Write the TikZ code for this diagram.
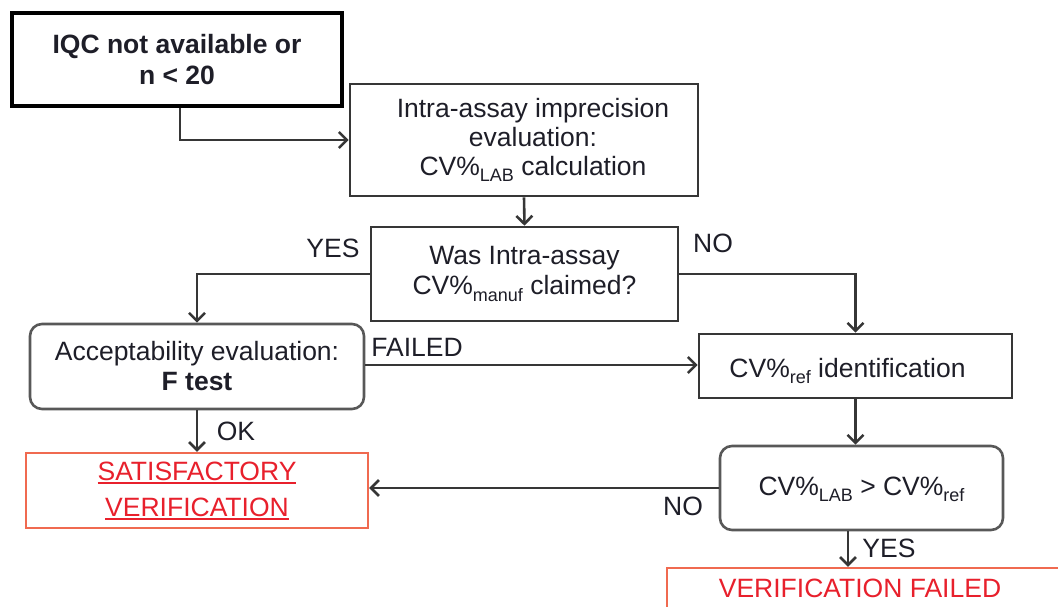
\documentclass[tikz,border=0pt]{standalone}
\usepackage{fontspec}
\setmainfont{Liberation Sans}
\usetikzlibrary{arrows.meta}
\definecolor{txt}{HTML}{1E1E28}
\definecolor{edge}{HTML}{363636}
\definecolor{soft}{HTML}{585858}
\definecolor{redbox}{HTML}{F06A50}
\definecolor{redtxt}{HTML}{E8202C}
\newcommand{\lowtxt}[1]{\raisebox{-0.45ex}{\fontsize{18}{18}\selectfont #1}}
\newlength{\ulwidth}
\newcommand{\redul}[1]{\settowidth{\ulwidth}{#1}#1\llap{\rule[-3.5pt]{\ulwidth}{1.6pt}}}
\begin{document}
\begin{tikzpicture}[x=1pt,y=-1pt,
  font=\fontsize{26.5}{30}\selectfont, text=txt,
  box/.style={draw=edge, line width=2.6pt, align=center, inner sep=0pt, fill=white},
  rbox/.style={box, draw=soft, rounded corners=12pt},
  redframe/.style={box, draw=redbox, line width=2.2pt, text=redtxt},
  lbl/.style={inner sep=0pt, anchor=center},
  arr/.style={draw=edge, line width=2.6pt, -{Straight Barb[length=8pt,width=16pt]}}]
\useasboundingbox (0,0) rectangle (1058,607);
\clip (0,0) rectangle (1058,607);

\node[box, line width=3.8pt, draw=black, minimum width=330pt, minimum height=93pt,
      font=\fontsize{26.5}{31}\selectfont\bfseries] (b1) at (177,59.5)
      {IQC not available or\\n < 20};
\node[box, minimum width=348pt, minimum height=112pt,
      font=\fontsize{26.5}{29}\selectfont] (b2) at (524,140)
      {\hspace*{18pt}Intra-assay imprecision\\\hspace*{18pt}evaluation:\\\hspace*{18pt}CV\%\lowtxt{LAB} calculation};
\node[box, minimum width=307pt, minimum height=94pt] (b3) at (524.5,274)
      {Was Intra-assay\\CV\%\lowtxt{manuf} claimed?};
\node[rbox, minimum width=334pt, minimum height=85pt] (b4) at (197,366.5)
      {Acceptability evaluation:\\\textbf{F test}};
\node[box, minimum width=313pt, minimum height=64pt] (b5) at (855.5,366)
      {\raisebox{-5pt}[\height][\depth]{\hspace*{-16pt}CV\%\lowtxt{ref} identification}};
\node[redframe, minimum width=342pt, minimum height=75pt,
      font=\fontsize{26.5}{36}\selectfont] (b6) at (197,490.5)
      {\redul{SATISFACTORY}\\\redul{VERIFICATION}};
\node[rbox, minimum width=283pt, minimum height=84pt] (b7) at (861.5,488)
      {\raisebox{-1pt}[\height][\depth]{CV\%\lowtxt{LAB} > CV\%\lowtxt{ref}}};
\node[redframe, minimum width=410pt, minimum height=56pt] (b8) at (872,596) {};
\node[lbl, text=redtxt] (b8t) at (860,588) {VERIFICATION FAILED};

% connectors
\draw[arr] ([xshift=3pt]b1.south) |- (b2.west);
\draw[arr] (b2.south) -- (b3.north);
\draw[arr] (b3.west) -| (b4.north);
\draw[arr] (b3.east) -| (b5.north);
\draw[arr] ([yshift=1.5pt]b4.east) -- ([yshift=1.5pt]b4.east -| b5.west);
\draw[arr] (b4.south) -- (b6.north);
\draw[arr] (b5.south) -- (b5.south |- b7.north);
\draw[arr] (b7.west) -- (b7.west -| b6.east);
\draw[arr] ([xshift=-13.5pt]b7.south) -- ([xshift=-13.5pt]b7.south |- b8.north);

% labels
\node[lbl] (yes1) at (333,248) {YES};
\node[lbl] (no1) at (713,243) {NO};
\node[lbl] (failed) at (417,347) {FAILED};
\node[lbl] (ok) at (236,431) {OK};
\node[lbl] (no2) at (683,506) {NO};
\node[lbl] (yes2) at (889,548) {YES};
\end{tikzpicture}
\end{document}
